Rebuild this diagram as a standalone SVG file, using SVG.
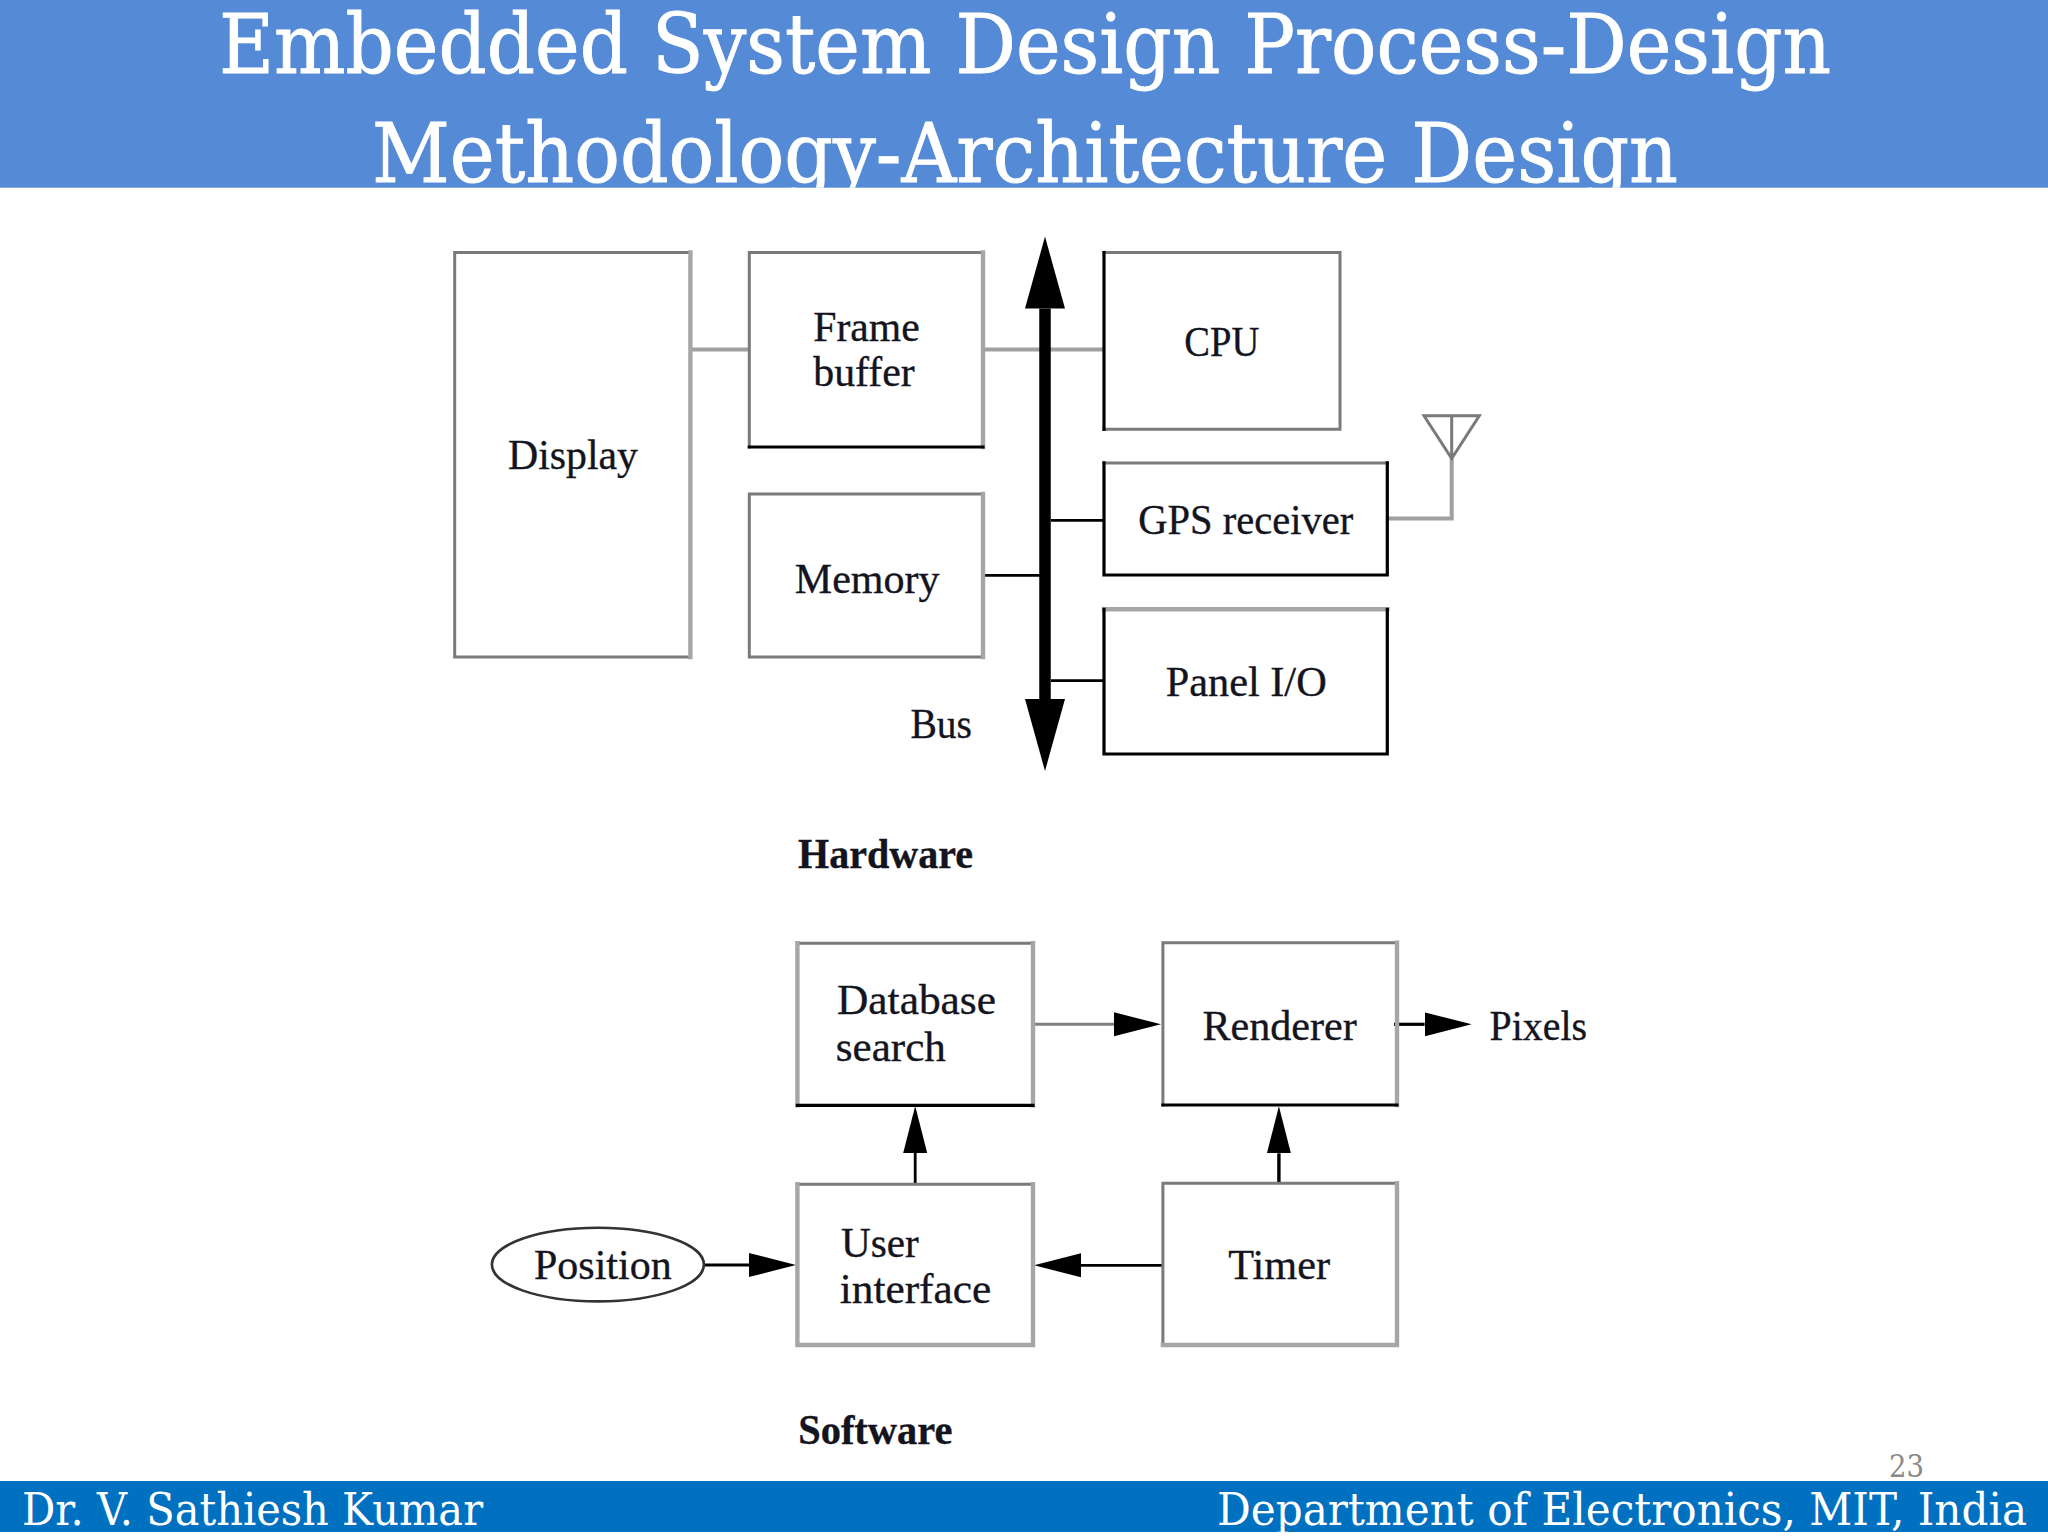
<svg xmlns="http://www.w3.org/2000/svg" width="2048" height="1536" viewBox="0 0 2048 1536">
<style>
text{font-family:"Liberation Serif","Times New Roman",serif;fill:#14141e}
.lbl{font-size:42px;stroke:#14141e;stroke-width:.35}
.b{font-weight:bold}
.hd{font-family:"DejaVu Serif","Liberation Serif",serif;fill:#fff;font-size:82px;stroke:#fff;stroke-width:.9}
.ft{font-family:"DejaVu Serif","Liberation Serif",serif;fill:#fff;font-size:44px}
.g1,.g2,.k,.cg,.ck,.bus{fill:none}
.g1{stroke:#7a7a7a;stroke-width:3;stroke-linecap:square}
.g2{stroke:#a6a6a6;stroke-width:4.4;stroke-linecap:square}
.k{stroke:#000;stroke-width:3.2;stroke-linecap:square}
.cg{stroke:#a0a0a0;stroke-width:4}
.ck{stroke:#000;stroke-width:2.8}
.bus{stroke:#000;stroke-width:11.5}
</style>
<defs>
<marker id="a" markerUnits="userSpaceOnUse" markerWidth="48" markerHeight="26" refX="0" refY="13" orient="auto"><path d="M0 1L47 13L0 25Z" fill="#000"/></marker>
<marker id="bh" markerUnits="userSpaceOnUse" markerWidth="74" markerHeight="42" refX="0" refY="21" orient="auto-start-reverse"><path d="M0 1L72 21L0 41Z" fill="#000"/></marker>
<clipPath id="tc"><rect x="0" y="0" width="2048" height="187.7"/></clipPath>
</defs>
<rect width="2048" height="1536" fill="#fff"/>
<g id="header">
<rect x="0" y="0" width="2048" height="187.7" fill="#558ad6"/>
<g clip-path="url(#tc)">
<text class="hd" x="219" y="72.7" textLength="1612" lengthAdjust="spacingAndGlyphs">Embedded System Design Process-Design</text>
<text class="hd" x="372" y="182.3" textLength="1306" lengthAdjust="spacingAndGlyphs">Methodology-Architecture Design</text>
</g>
</g>
<g id="connectors">
<path class="cg" d="M690.4 349.6H749.3M983 349.6H1104"/>
<path class="ck" d="M983 575.4H1040M1051 520.4H1104M1051 680.7H1104"/>
<path class="cg" d="M1388 518.6H1451.7V458"/>
<path class="g1" d="M1451.7 416V458M1424 415.7H1479.3L1451.7 458.6Z" style="stroke-linejoin:miter"/>
<path class="bus" d="M1045 308.6V699" marker-start="url(#bh)" marker-end="url(#bh)"/>
<path class="ck" d="M704 1265H749" marker-end="url(#a)"/>
<path class="ck" d="M915.2 1184V1153" marker-end="url(#a)"/>
<path class="ck" d="M1163 1265.3H1081" marker-end="url(#a)"/>
<path class="ck" d="M1278.9 1184V1153.3" style="stroke-width:3.4" marker-end="url(#a)"/>
<path class="cg" d="M1033 1024.3H1114" style="stroke:#808080;stroke-width:3" marker-end="url(#a)"/>
<path class="ck" d="M1394 1024.3H1424.6" style="stroke-width:3.2" marker-end="url(#a)"/>
</g>
<g id="display">
<path class="g1" d="M690.4 252.5H454.7V657H690.4"/><path class="g2" d="M690.4 252.5V657"/>
<text class="lbl" x="508" y="468.6" textLength="130" lengthAdjust="spacingAndGlyphs">Display</text>
</g>
<g id="frame-buffer">
<path class="g1" d="M983 252.5H749.3V447"/><path class="g2" d="M983 252.5V447"/><path class="k" d="M749.3 447H983"/>
<text class="lbl" x="813.3" y="340.7" textLength="106.5" lengthAdjust="spacingAndGlyphs">Frame</text>
<text class="lbl" x="813.3" y="386.4" textLength="101.4" lengthAdjust="spacingAndGlyphs">buffer</text>
</g>
<g id="memory">
<path class="g1" d="M983 494H749.3V657H983"/><path class="g2" d="M983 494V657"/>
<text class="lbl" x="794.8" y="592.6" textLength="144.8" lengthAdjust="spacingAndGlyphs">Memory</text>
</g>
<g id="cpu">
<path class="g1" d="M1104 252.5H1340V429.3H1104"/><path class="k" d="M1104 252.5V429.3"/>
<text class="lbl" x="1184.3" y="356.4" textLength="75" lengthAdjust="spacingAndGlyphs">CPU</text>
</g>
<g id="gps-receiver">
<path class="g1" d="M1104 462.9H1387.3"/><path class="k" d="M1104 462.9V575H1387.3V462.9"/>
<text class="lbl" x="1138.3" y="534.2" textLength="215" lengthAdjust="spacingAndGlyphs">GPS receiver</text>
</g>
<g id="panel-io">
<path class="g2" d="M1104 609.3H1387.3"/><path class="k" d="M1104 609.3V754H1387.3V609.3"/>
<text class="lbl" x="1165.7" y="696.4" textLength="161" lengthAdjust="spacingAndGlyphs">Panel I/O</text>
</g>
<text id="bus-label" class="lbl" x="910.5" y="737.8" textLength="61.5" lengthAdjust="spacingAndGlyphs">Bus</text>
<text id="hardware-label" class="lbl b" x="798" y="867.5" textLength="175" lengthAdjust="spacingAndGlyphs">Hardware</text>
<g id="database-search">
<path class="g1" d="M797.4 943.2H1033"/><path class="g2" d="M797.4 943.2V1105.4M1033 943.2V1105.4"/><path class="k" d="M797.4 1105.4H1033"/>
<text class="lbl" x="837" y="1013.6" textLength="159" lengthAdjust="spacingAndGlyphs">Database</text>
<text class="lbl" x="835.8" y="1060.6" textLength="110" lengthAdjust="spacingAndGlyphs">search</text>
</g>
<g id="renderer">
<path class="g1" d="M1397 942.7H1162.9V1105"/><path class="g2" d="M1397 942.7V1105"/><path class="k" d="M1162.9 1105H1397"/>
<text class="lbl" x="1202.5" y="1040.3" textLength="154.3" lengthAdjust="spacingAndGlyphs">Renderer</text>
</g>
<text id="pixels" class="lbl" x="1489.6" y="1040.3" textLength="97.4" lengthAdjust="spacingAndGlyphs">Pixels</text>
<g id="user-interface">
<path class="g1" d="M797.4 1184.3H1033"/><path class="g2" d="M797.4 1184.3V1345H1033V1184.3"/>
<text class="lbl" x="841" y="1256.8" textLength="77.8" lengthAdjust="spacingAndGlyphs">User</text>
<text class="lbl" x="839.7" y="1303.4" textLength="151.5" lengthAdjust="spacingAndGlyphs">interface</text>
</g>
<g id="timer">
<path class="g1" d="M1397 1183.3H1162.9V1345"/><path class="g2" d="M1397 1183.3V1345H1162.9"/>
<text class="lbl" x="1228.2" y="1278.6" textLength="101.8" lengthAdjust="spacingAndGlyphs">Timer</text>
</g>
<g id="position">
<ellipse cx="597.9" cy="1264.6" rx="106" ry="36.8" fill="none" stroke="#333" stroke-width="2.6"/>
<text class="lbl" x="534" y="1279" textLength="137.7" lengthAdjust="spacingAndGlyphs">Position</text>
</g>
<text id="software-label" class="lbl b" x="798.2" y="1443.6" textLength="154.2" lengthAdjust="spacingAndGlyphs">Software</text>
<text id="page-number" x="1889" y="1477.3" font-size="31" textLength="35" lengthAdjust="spacingAndGlyphs" style="font-family:'DejaVu Serif','Liberation Serif',serif;fill:#898989">23</text>
<g id="footer">
<rect x="0" y="1481" width="2048" height="51" fill="#0070c0"/>
<text class="ft" x="22" y="1525" textLength="461" lengthAdjust="spacingAndGlyphs">Dr. V. Sathiesh Kumar</text>
<text class="ft" x="1217" y="1525" textLength="810" lengthAdjust="spacingAndGlyphs">Department of Electronics, MIT, India</text>
</g>
</svg>
